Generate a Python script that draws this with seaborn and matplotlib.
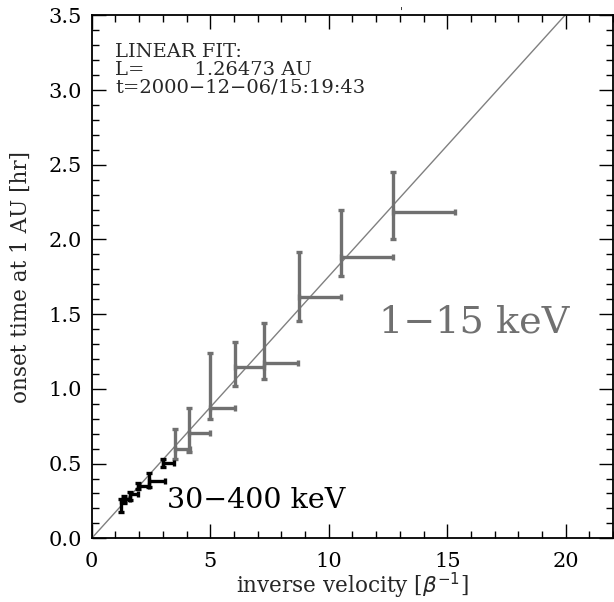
import numpy as np
import pandas as pd
import matplotlib
matplotlib.use("Agg")
import matplotlib.pyplot as plt
from matplotlib.ticker import MultipleLocator
import seaborn as sns

# 1-15 keV channels (gray): inverse velocity, onset time, errors
low_x = [3.50, 4.11, 5.01, 6.03, 7.25, 8.73, 10.52, 12.69]
low_xhi = [4.14, 5.01, 6.03, 7.25, 8.72, 10.52, 12.69, 15.31]
low_t = [0.598, 0.703, 0.874, 1.149, 1.175, 1.617, 1.881, 2.182]
low_tlo = [0.531, 0.580, 0.797, 1.021, 1.066, 1.454, 1.756, 2.003]
low_thi = [0.732, 0.870, 1.242, 1.316, 1.439, 1.914, 2.197, 2.450]

# 30-400 keV channels (black)
high_x = [1.22, 1.37, 1.61, 1.96, 2.42, 3.01]
high_xhi = [1.39, 1.62, 1.96, 2.42, 3.08, 3.46]
high_t = [0.252, 0.261, 0.294, 0.350, 0.383, 0.502]
high_tlo = [0.178, 0.239, 0.256, 0.328, 0.341, 0.479]
high_thi = [0.261, 0.283, 0.312, 0.368, 0.435, 0.529]

# linear fit: path length L in AU, slope in hr per beta^-1
L_au = 1.26473
fit_x = [0.0, 22.0]
fit_t = [L_au * 499.005 / 3600 * v for v in fit_x]

sns.set_style("ticks")
plt.rcParams['font.family'] = ['DejaVu Serif']

fig = plt.figure(figsize=(6.14, 6.02), dpi=100)
ax = fig.add_axes([91.7 / 614, 63.7 / 602, 521.5 / 614, 523 / 602])

gray = '#707070'

fit_df = pd.DataFrame({'x': fit_x, 't': fit_t})
sns.lineplot(data=fit_df, x='x', y='t', color='#808080', lw=1.0, ax=ax)

def draw_bars(x, xhi, t, tlo, thi, color):
    x = np.array(x); t = np.array(t)
    xerr = [np.zeros_like(x), np.array(xhi) - x]
    yerr = [t - np.array(tlo), np.array(thi) - t]
    ax.errorbar(x, t, xerr=xerr, yerr=yerr, fmt='none', ecolor=color,
                elinewidth=2.4, capsize=2.2, capthick=2.4)

draw_bars(low_x, low_xhi, low_t, low_tlo, low_thi, gray)
draw_bars(high_x, high_xhi, high_t, high_tlo, high_thi, 'black')

ax.set_xlim(0, 22)
ax.set_ylim(0, 3.5)
ax.xaxis.set_major_locator(MultipleLocator(5))
ax.xaxis.set_minor_locator(MultipleLocator(1))
ax.yaxis.set_major_locator(MultipleLocator(0.5))
ax.yaxis.set_minor_locator(MultipleLocator(0.1))
ax.yaxis.set_major_formatter(plt.FormatStrFormatter('%.1f'))
ax.tick_params(which='both', direction='in', top=True, right=True, labelsize=15,
               width=1, color='black', labelcolor='black')
ax.tick_params(which='major', length=10)
ax.tick_params(axis='x', which='major', pad=10)
ax.tick_params(axis='y', which='major', pad=7)
ax.tick_params(which='minor', length=5)
for s in ax.spines.values():
    s.set_linewidth(1.3)
    s.set_color('black')
    s.set_visible(True)

ax.set_xlabel(r'inverse velocity [$\beta^{-1}$]', fontsize=15.5, labelpad=0)
ax.set_ylabel('onset time at 1 AU [hr]', fontsize=15.5, labelpad=12)

ax.text(1.0, 3.224, 'LINEAR FIT:', fontsize=14)
ax.text(1.0, 3.101, 'L=        %.5f AU' % L_au, fontsize=14)
ax.text(1.0, 2.981, 't=2000\u221212\u221206/15:19:43', fontsize=14)

ax.text(12.13, 1.374, '1\u221215 keV', fontsize=27.5, color=gray)
ax.text(3.17, 0.203, '30\u2212400 keV', fontsize=20.5, color='black')

fig.text(0.653, 0.988, "'", fontsize=8, ha='center', va='top')

fig.savefig('out.png', dpi=100)
